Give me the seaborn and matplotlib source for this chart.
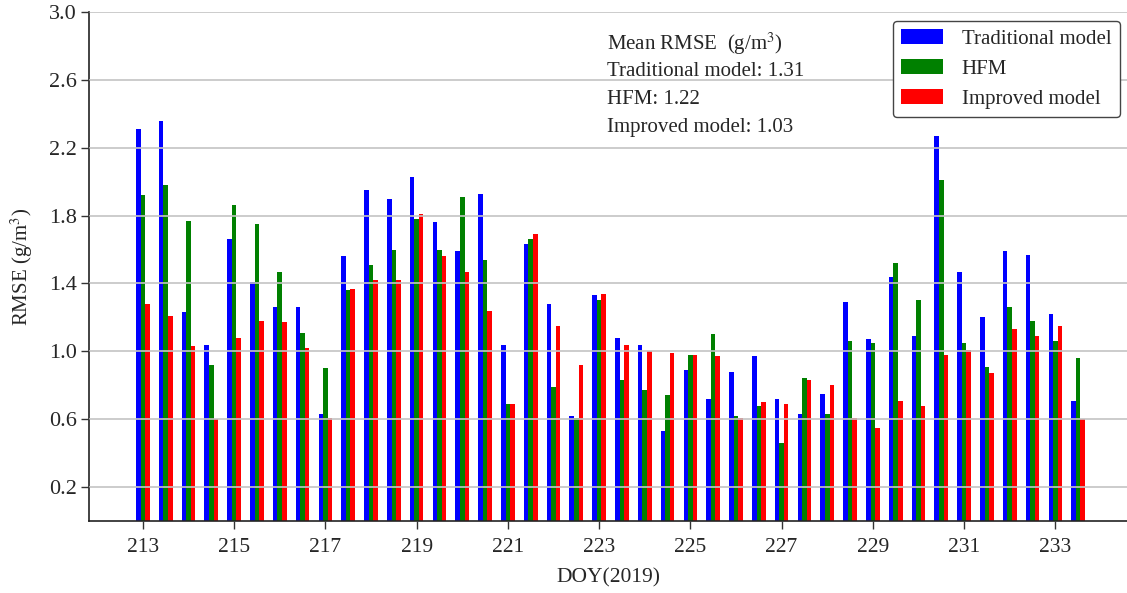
import numpy as np
import pandas as pd
import matplotlib
matplotlib.use("Agg")
import matplotlib.pyplot as plt
import seaborn as sns

doy = [213 + 0.5 * i for i in range(42)]

traditional = [2.31, 2.36, 1.23, 1.04, 1.66, 1.41, 1.26, 1.26, 0.63, 1.56,
               1.95, 1.90, 2.03, 1.76, 1.59, 1.93, 1.04, 1.63, 1.28, 0.62,
               1.33, 1.08, 1.04, 0.53, 0.89, 0.72, 0.88, 0.97, 0.72, 0.63,
               0.75, 1.29, 1.07, 1.44, 1.09, 2.27, 1.47, 1.20, 1.59, 1.57,
               1.22, 0.71]
hfm = [1.92, 1.98, 1.77, 0.92, 1.86, 1.75, 1.47, 1.11, 0.90, 1.36,
       1.51, 1.60, 1.78, 1.60, 1.91, 1.54, 0.69, 1.66, 0.79, 0.61,
       1.30, 0.83, 0.77, 0.74, 0.98, 1.10, 0.62, 0.68, 0.46, 0.84,
       0.63, 1.06, 1.05, 1.52, 1.30, 2.01, 1.05, 0.91, 1.26, 1.18,
       1.06, 0.96]
improved = [1.28, 1.21, 1.03, 0.60, 1.08, 1.18, 1.17, 1.02, 0.61, 1.37,
            1.42, 1.42, 1.81, 1.56, 1.47, 1.24, 0.69, 1.69, 1.15, 0.92,
            1.34, 1.04, 1.00, 0.99, 0.98, 0.97, 0.61, 0.70, 0.69, 0.83,
            0.80, 0.61, 0.55, 0.71, 0.68, 0.98, 1.01, 0.87, 1.13, 1.09,
            1.15, 0.60]

models = ["Traditional model", "HFM", "Improved model"]
colors = ["#0000ff", "#008000", "#ff0000"]
y_ticks = [0.2, 0.6, 1.0, 1.4, 1.8, 2.2, 2.6, 3.0]
x_ticks = list(range(213, 234, 2))
info_lines = ["Mean RMSE  (g/m$^3$)", "Traditional model: 1.31",
              "HFM: 1.22", "Improved model: 1.03"]

df = pd.DataFrame({
    "DOY": doy * 3,
    "RMSE": traditional + hfm + improved,
    "Model": [m for m in models for _ in doy],
})

sns.set_style("white")
plt.rcParams["font.family"] = ["Liberation Serif", "DejaVu Serif"]
plt.rcParams["mathtext.fontset"] = "stix"

fig = plt.figure(figsize=(11.27, 5.93), dpi=100)
ax = fig.add_axes([0.079, 0.1214, 0.921, 0.8584])

sns.barplot(data=df, x="DOY", y="RMSE", hue="Model", hue_order=models,
            palette=dict(zip(models, colors)), native_scale=True,
            width=0.6, gap=0, errorbar=None, ax=ax, saturation=1,
            linewidth=0)

ax.set_xlim(211.82, 234.57)
ax.set_ylim(0, 3.0)
ax.set_xticks(x_ticks)
ax.set_xticklabels([str(t) for t in x_ticks], fontsize=15.5)
ax.set_yticks(y_ticks)
ax.set_yticklabels([f"{t:.1f}" for t in y_ticks], fontsize=16)
ax.tick_params(axis="both", direction="out", length=6, width=1, color="#333333",
               bottom=True, left=True)
ax.tick_params(axis="x", pad=6)
ax.tick_params(axis="y", pad=3)
ax.yaxis.grid(True, color="#c4c4c4", linewidth=1.2)
ax.xaxis.grid(False)
ax.set_axisbelow(False)
for s in ["top", "right"]:
    ax.spines[s].set_visible(False)
for s in ["left", "bottom"]:
    ax.spines[s].set_color("#222222")
    ax.spines[s].set_linewidth(1.2)

ax.set_xlabel("DOY(2019)", fontsize=15.5, labelpad=8)
ax.set_ylabel("RMSE (g/m$^3$)", fontsize=15, labelpad=10)

for i, line in enumerate(info_lines):
    ax.text(0.499, 0.938 - i * 0.055, line, transform=ax.transAxes,
            fontsize=15, ha="left", va="center")

handles, labels = ax.get_legend_handles_labels()
ax.legend(handles, labels, loc="upper right", bbox_to_anchor=(0.993, 0.982),
          borderaxespad=0, fontsize=15, frameon=True, edgecolor="#444444",
          fancybox=True, framealpha=1, handlelength=2.0, handletextpad=0.9,
          labelspacing=0.5, borderpad=0.4)

fig.savefig("out.png", dpi=100)
